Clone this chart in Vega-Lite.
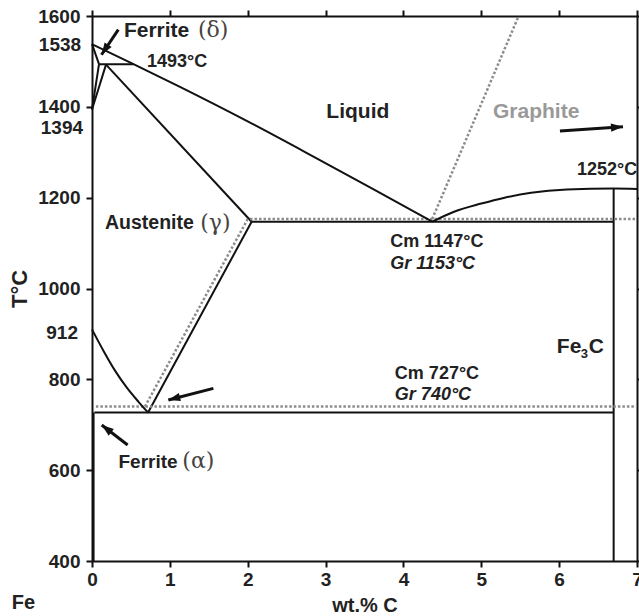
{
  "$schema": "https://vega.github.io/schema/vega-lite/v6.json",
  "width": 545,
  "height": 545,
  "autosize": {"type": "none"},
  "padding": {"left": 92, "top": 16, "right": 2, "bottom": 55},
  "background": "white",
  "config": {
    "view": {"stroke": null},
    "font": "Liberation Sans",
    "axis": {
      "domainColor": "#111",
      "domainWidth": 2,
      "tickColor": "#111",
      "tickWidth": 2,
      "tickSize": 6,
      "grid": false,
      "labelFont": "Liberation Sans",
      "labelFontWeight": "bold",
      "labelFontSize": 19,
      "labelColor": "#222",
      "labelOverlap": false,
      "titleFont": "Liberation Sans",
      "titleFontWeight": "bold",
      "titleColor": "#222"
    }
  },
  "datasets": {
    "solid": [
      {"x": 0.18, "T": 1493, "x2": 2.05, "T2": 1147},
      {"x": 0.09, "T": 1494, "x2": 0.53, "T2": 1494},
      {"x": 0, "T": 1538, "x2": 0.09, "T2": 1494},
      {"x": 0, "T": 1394, "x2": 0.09, "T2": 1494},
      {"x": 0, "T": 1394, "x2": 0.18, "T2": 1493},
      {"x": 2.05, "T": 1147, "x2": 6.7, "T2": 1147},
      {"x": 0.72, "T": 727, "x2": 2.05, "T2": 1147},
      {"x": 0.03, "T": 727, "x2": 6.7, "T2": 727},
      {"x": 6.7, "T": 400, "x2": 6.7, "T2": 1220},
      {"x": 0.02, "T": 400, "x2": 0.02, "T2": 727}
    ],
    "dotted": [
      {"x": 4.37, "T": 1153, "x2": 5.48, "T2": 1600},
      {"x": 2.03, "T": 1153, "x2": 7, "T2": 1153},
      {"x": 0.68, "T": 740, "x2": 2.0, "T2": 1153},
      {"x": 0.05, "T": 740, "x2": 7, "T2": 740}
    ],
    "curves": [
      {"id": "liq", "o": 1, "x": 0, "T": 1538},
      {"id": "liq", "o": 2, "x": 0.5, "T": 1497},
      {"id": "liq", "o": 3, "x": 1.13, "T": 1444},
      {"id": "liq", "o": 4, "x": 2.0, "T": 1368},
      {"id": "liq", "o": 5, "x": 2.85, "T": 1290},
      {"id": "liq", "o": 6, "x": 3.6, "T": 1220},
      {"id": "liq", "o": 7, "x": 4.37, "T": 1147},
      {"id": "a3", "o": 1, "x": 0, "T": 910},
      {"id": "a3", "o": 2, "x": 0.15, "T": 862},
      {"id": "a3", "o": 3, "x": 0.3, "T": 818},
      {"id": "a3", "o": 4, "x": 0.45, "T": 781},
      {"id": "a3", "o": 5, "x": 0.6, "T": 750},
      {"id": "a3", "o": 6, "x": 0.72, "T": 727},
      {"id": "cm", "o": 1, "x": 4.37, "T": 1147},
      {"id": "cm", "o": 2, "x": 4.65, "T": 1169},
      {"id": "cm", "o": 3, "x": 5.0, "T": 1187},
      {"id": "cm", "o": 4, "x": 5.3, "T": 1200},
      {"id": "cm", "o": 5, "x": 5.64, "T": 1211},
      {"id": "cm", "o": 6, "x": 6.1, "T": 1218},
      {"id": "cm", "o": 7, "x": 6.7, "T": 1220},
      {"id": "cm", "o": 8, "x": 7, "T": 1219}
    ],
    "arrows": [
      {"name": "delta", "x": 0.338, "T": 1570, "x2": 0.122, "T2": 1514.6},
      {"name": "acm", "x": 1.559, "T": 780, "x2": 0.98, "T2": 754.5},
      {"name": "alpha", "x": 0.458, "T": 655.4, "x2": 0.125, "T2": 699.4},
      {"name": "graphite", "x": 6.01, "T": 1347, "x2": 6.82, "T2": 1356}
    ],
    "labels": [
      {"g": "big", "text": "Ferrite", "x": 0.41, "T": 1554},
      {"g": "big", "text": "Liquid", "x": 3.01, "T": 1375},
      {"g": "temp", "text": "1493°C", "x": 0.706, "T": 1487},
      {"g": "temp", "text": "1252°C", "x": 6.23, "T": 1249.5},
      {"g": "temp", "text": "Cm 1147°C", "x": 3.83, "T": 1091},
      {"g": "temp", "text": "Cm 727°C", "x": 3.89, "T": 800},
      {"g": "ital", "text": "Gr  1153°C", "x": 3.83, "T": 1044},
      {"g": "ital", "text": "Gr  740°C", "x": 3.89, "T": 754.5},
      {"g": "gray", "text": "Graphite", "x": 5.15, "T": 1376},
      {"g": "mid", "text": "Austenite", "x": 0.167, "T": 1144},
      {"g": "alpha", "text": "Ferrite", "x": 0.34, "T": 605},
      {"g": "greek", "text": "(δ)", "x": 1.36, "T": 1554},
      {"g": "greek", "text": "(α)", "x": 1.16, "T": 605},
      {"g": "greekmid", "text": "(γ)", "x": 1.39, "T": 1144},
      {"g": "fe", "text": "Fe", "x": 5.97, "T": 857},
      {"g": "sub", "text": "3", "x": 5.97, "T": 857},
      {"g": "c", "text": "C", "x": 5.97, "T": 857},
      {"g": "ylab", "text": "1538", "x": -0.14, "T": 1537},
      {"g": "ylab", "text": "1394", "x": -0.115, "T": 1353},
      {"g": "ylab", "text": "912", "x": -0.18, "T": 901},
      {"g": "fe0", "text": "Fe", "x": -1.03, "T": 308}
    ]
  },
  "encoding": {
    "x": {"field": "x", "type": "quantitative", "scale": {"domain": [0, 7], "nice": false, "zero": false}, "axis": null},
    "y": {"field": "T", "type": "quantitative", "scale": {"domain": [400, 1600], "nice": false, "zero": false}, "axis": null}
  },
  "resolve": {"axis": {"x": "independent", "y": "independent"}},
  "layer": [
    {
      "data": {"name": "solid"},
      "mark": {"type": "rule", "color": "#111", "strokeWidth": 2},
      "encoding": {
        "x": {"field": "x", "type": "quantitative", "scale": {"domain": [0, 7], "nice": false, "zero": false},
          "axis": {"orient": "bottom", "values": [0, 1, 2, 3, 4, 5, 6, 7], "format": "d", "title": "wt.% C", "titleFontSize": 20, "titlePadding": 6, "labelPadding": 3, "labelFlush": false}},
        "y": {"field": "T", "type": "quantitative", "scale": {"domain": [400, 1600], "nice": false, "zero": false},
          "axis": {"orient": "left", "values": [400, 600, 800, 1000, 1200, 1400, 1600], "format": "d", "title": "T°C", "titleFontSize": 22, "titlePadding": 6, "labelPadding": 6, "labelFlush": false}},
        "x2": {"field": "x2"},
        "y2": {"field": "T2"}
      }
    },
    {
      "data": {"name": "dotted"},
      "mark": {"type": "rule", "color": "#8c8c8c", "strokeWidth": 2.5, "strokeDash": [2.5, 2]},
      "encoding": {
        "x": {"field": "x", "type": "quantitative", "scale": {"domain": [0, 7], "nice": false, "zero": false},
          "axis": {"orient": "top", "values": [0, 1, 2, 3, 4, 5, 6, 7], "labels": false, "title": null}},
        "y": {"field": "T", "type": "quantitative", "scale": {"domain": [400, 1600], "nice": false, "zero": false},
          "axis": {"orient": "right", "values": [400, 600, 800, 1000, 1200, 1400, 1600], "labels": false, "title": null}},
        "x2": {"field": "x2"},
        "y2": {"field": "T2"}
      }
    },
    {
      "data": {"name": "curves"},
      "mark": {"type": "line", "color": "#111", "strokeWidth": 2, "interpolate": "monotone"},
      "encoding": {
        "detail": {"field": "id"},
        "order": {"field": "o", "type": "quantitative"}
      }
    },
    {
      "data": {"name": "arrows"},
      "mark": {"type": "rule", "color": "#111", "strokeWidth": 3},
      "encoding": {"x2": {"field": "x2"}, "y2": {"field": "T2"}}
    },
    {
      "data": {"name": "arrows"},
      "transform": [{"filter": "datum.name == 'delta'"}],
      "mark": {"type": "point", "shape": "M0,0L0.7,2L-0.7,2Z", "filled": true, "color": "#111", "opacity": 1, "size": 144, "angle": 213.6},
      "encoding": {
        "x": {"field": "x2", "type": "quantitative", "scale": {"domain": [0, 7], "nice": false, "zero": false}, "axis": null},
        "y": {"field": "T2", "type": "quantitative", "scale": {"domain": [400, 1600], "nice": false, "zero": false}, "axis": null}
      }
    },
    {
      "data": {"name": "arrows"},
      "transform": [{"filter": "datum.name == 'acm'"}],
      "mark": {"type": "point", "shape": "M0,0L0.7,2L-0.7,2Z", "filled": true, "color": "#111", "opacity": 1, "size": 144, "angle": 255.4},
      "encoding": {
        "x": {"field": "x2", "type": "quantitative", "scale": {"domain": [0, 7], "nice": false, "zero": false}, "axis": null},
        "y": {"field": "T2", "type": "quantitative", "scale": {"domain": [400, 1600], "nice": false, "zero": false}, "axis": null}
      }
    },
    {
      "data": {"name": "arrows"},
      "transform": [{"filter": "datum.name == 'alpha'"}],
      "mark": {"type": "point", "shape": "M0,0L0.7,2L-0.7,2Z", "filled": true, "color": "#111", "opacity": 1, "size": 144, "angle": 307.6},
      "encoding": {
        "x": {"field": "x2", "type": "quantitative", "scale": {"domain": [0, 7], "nice": false, "zero": false}, "axis": null},
        "y": {"field": "T2", "type": "quantitative", "scale": {"domain": [400, 1600], "nice": false, "zero": false}, "axis": null}
      }
    },
    {
      "data": {"name": "arrows"},
      "transform": [{"filter": "datum.name == 'graphite'"}],
      "mark": {"type": "point", "shape": "M0,0L0.7,2L-0.7,2Z", "filled": true, "color": "#111", "opacity": 1, "size": 144, "angle": 86.4},
      "encoding": {
        "x": {"field": "x2", "type": "quantitative", "scale": {"domain": [0, 7], "nice": false, "zero": false}, "axis": null},
        "y": {"field": "T2", "type": "quantitative", "scale": {"domain": [400, 1600], "nice": false, "zero": false}, "axis": null}
      }
    },
    {
      "data": {"name": "labels"},
      "transform": [{"filter": "datum.g == 'big'"}],
      "mark": {"type": "text", "align": "left", "baseline": "alphabetic", "fontSize": 21, "fontWeight": "bold", "color": "#222", "font": "Liberation Sans"},
      "encoding": {"text": {"field": "text"}}
    },
    {
      "data": {"name": "labels"},
      "transform": [{"filter": "datum.g == 'temp'"}],
      "mark": {"type": "text", "align": "left", "baseline": "alphabetic", "fontSize": 18, "fontWeight": "bold", "color": "#222", "font": "Liberation Sans"},
      "encoding": {"text": {"field": "text"}}
    },
    {
      "data": {"name": "labels"},
      "transform": [{"filter": "datum.g == 'ital'"}],
      "mark": {"type": "text", "align": "left", "baseline": "alphabetic", "fontSize": 18, "fontWeight": "bold", "fontStyle": "italic", "color": "#222", "font": "Liberation Sans"},
      "encoding": {"text": {"field": "text"}}
    },
    {
      "data": {"name": "labels"},
      "transform": [{"filter": "datum.g == 'gray'"}],
      "mark": {"type": "text", "align": "left", "baseline": "alphabetic", "fontSize": 21, "fontWeight": "bold", "color": "#999", "font": "Liberation Sans"},
      "encoding": {"text": {"field": "text"}}
    },
    {
      "data": {"name": "labels"},
      "transform": [{"filter": "datum.g == 'mid'"}],
      "mark": {"type": "text", "align": "left", "baseline": "middle", "fontSize": 19.5, "fontWeight": "bold", "color": "#222", "font": "Liberation Sans"},
      "encoding": {"text": {"field": "text"}}
    },
    {
      "data": {"name": "labels"},
      "transform": [{"filter": "datum.g == 'alpha'"}],
      "mark": {"type": "text", "align": "left", "baseline": "alphabetic", "fontSize": 19, "fontWeight": "bold", "color": "#222", "font": "Liberation Sans"},
      "encoding": {"text": {"field": "text"}}
    },
    {
      "data": {"name": "labels"},
      "transform": [{"filter": "datum.g == 'greek'"}],
      "mark": {"type": "text", "align": "left", "baseline": "alphabetic", "fontSize": 22, "color": "#444", "font": "DejaVu Serif"},
      "encoding": {"text": {"field": "text"}}
    },
    {
      "data": {"name": "labels"},
      "transform": [{"filter": "datum.g == 'greekmid'"}],
      "mark": {"type": "text", "align": "left", "baseline": "middle", "fontSize": 22, "color": "#444", "font": "DejaVu Serif"},
      "encoding": {"text": {"field": "text"}}
    },
    {
      "data": {"name": "labels"},
      "transform": [{"filter": "datum.g == 'fe'"}],
      "mark": {"type": "text", "align": "left", "baseline": "alphabetic", "fontSize": 21, "fontWeight": "bold", "color": "#222", "font": "Liberation Sans"},
      "encoding": {"text": {"field": "text"}}
    },
    {
      "data": {"name": "labels"},
      "transform": [{"filter": "datum.g == 'sub'"}],
      "mark": {"type": "text", "align": "left", "baseline": "alphabetic", "fontSize": 13, "fontWeight": "bold", "color": "#222", "font": "Liberation Sans", "dx": 24, "dy": 5},
      "encoding": {"text": {"field": "text"}}
    },
    {
      "data": {"name": "labels"},
      "transform": [{"filter": "datum.g == 'c'"}],
      "mark": {"type": "text", "align": "left", "baseline": "alphabetic", "fontSize": 21, "fontWeight": "bold", "color": "#222", "font": "Liberation Sans", "dx": 32},
      "encoding": {"text": {"field": "text"}}
    },
    {
      "data": {"name": "labels"},
      "transform": [{"filter": "datum.g == 'ylab'"}],
      "mark": {"type": "text", "align": "right", "baseline": "middle", "fontSize": 19, "fontWeight": "bold", "color": "#222", "font": "Liberation Sans"},
      "encoding": {"text": {"field": "text"}}
    },
    {
      "data": {"name": "labels"},
      "transform": [{"filter": "datum.g == 'fe0'"}],
      "mark": {"type": "text", "align": "left", "baseline": "middle", "fontSize": 20, "fontWeight": "bold", "color": "#222", "font": "Liberation Sans"},
      "encoding": {"text": {"field": "text"}}
    }
  ]
}
